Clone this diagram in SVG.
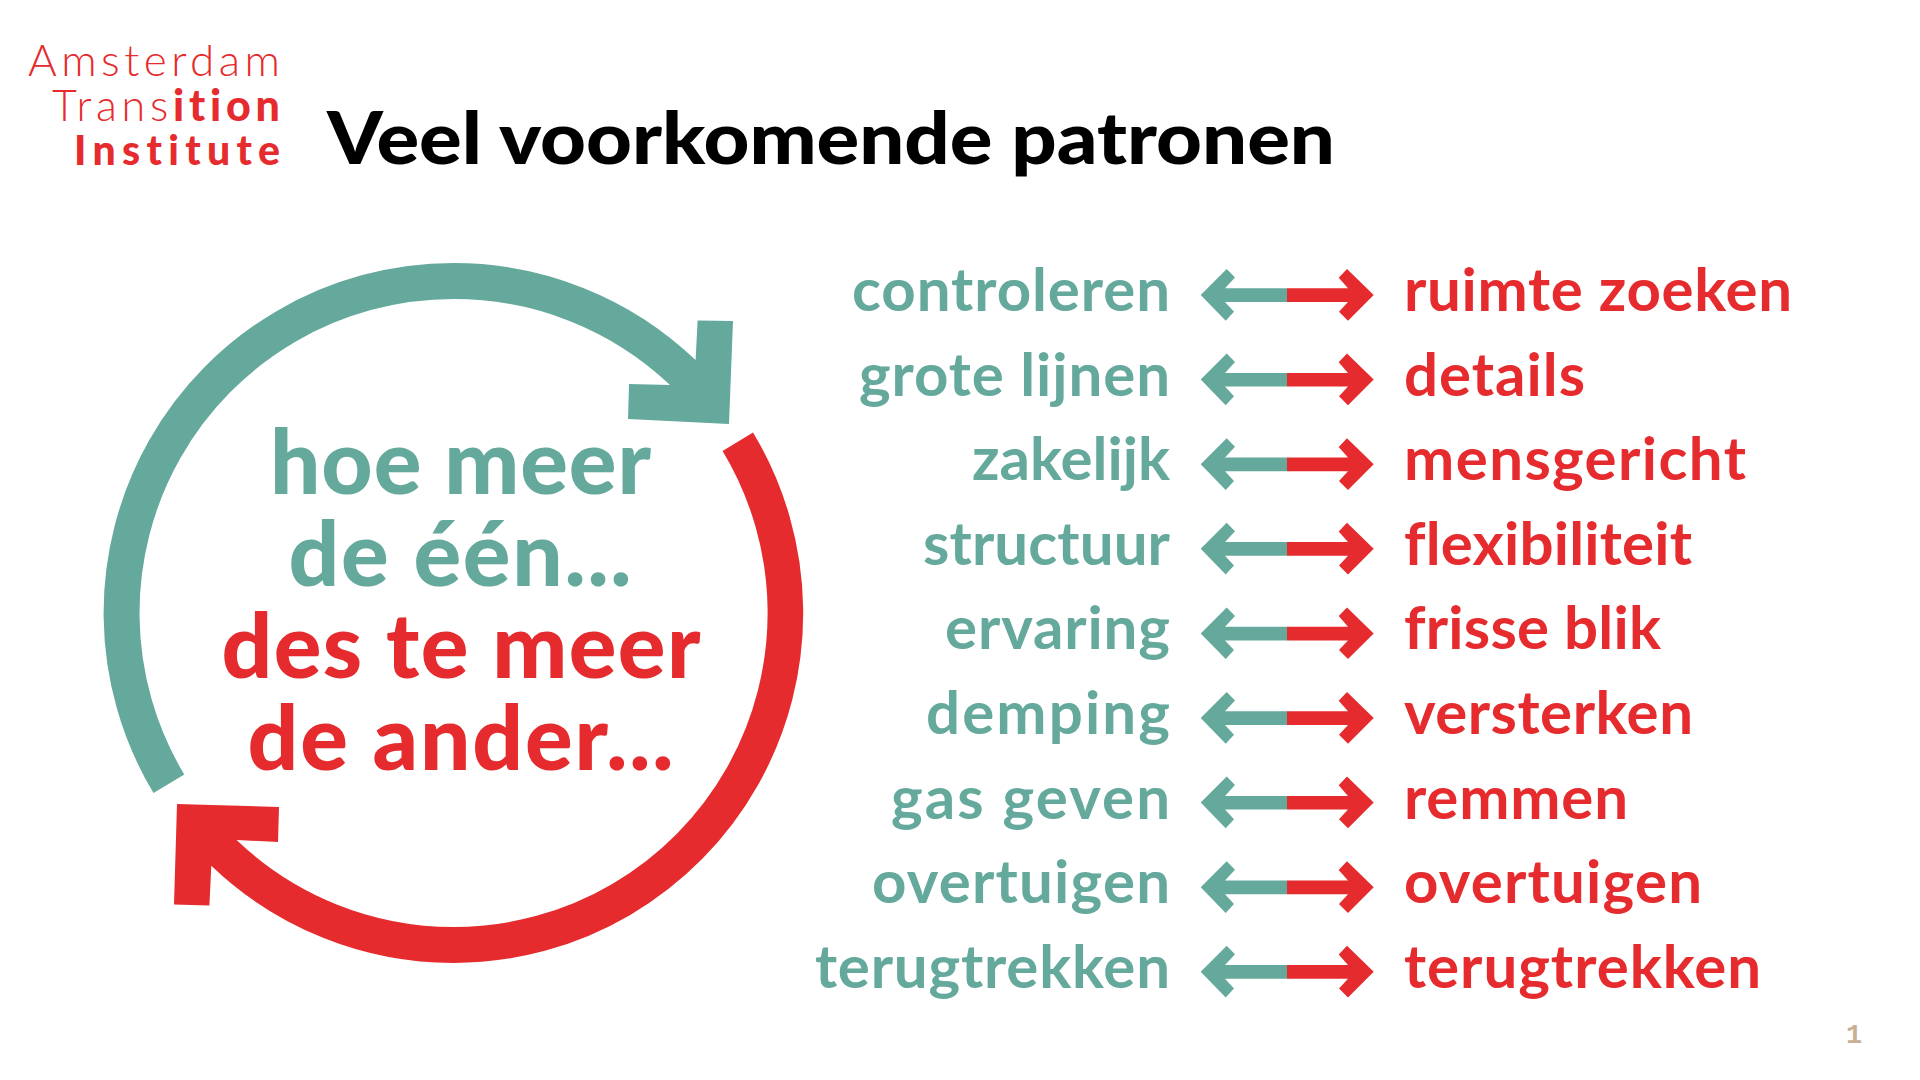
<svg xmlns="http://www.w3.org/2000/svg" width="1920" height="1080" viewBox="0 0 1920 1080">
<style>
text{font-family:"Lato","Liberation Sans",sans-serif;font-variant-ligatures:none}
.t{fill:#65A99C}.r{fill:#E52B2D}
.row{font-size:60px;font-weight:700}
.l{text-anchor:end}
.c{font-size:89px;font-weight:900}
.logo{fill:#E52B2D;text-anchor:end}
</style>
<defs>
<g id="dbl">
<path class="t" d="M1200.7 295L1226.7 269L1235 277.5L1225 288.3H1287V302H1225L1234 311.7L1225.7 320.7Z"/>
<path class="r" d="M1373.7 295L1347 269L1338.7 277.7L1348 288.3H1287V302H1348L1339 311.7L1348 320.7Z"/>
</g>
</defs>
<rect width="1920" height="1080" fill="#fff"/>
<g id="logo">
<text class="logo" x="280" y="76" font-size="44" font-weight="300" textLength="252" lengthAdjust="spacing">Amsterdam</text>
<text class="logo" x="280" y="121" font-size="43" font-weight="300" textLength="228" lengthAdjust="spacing">Trans<tspan font-weight="900">ition</tspan></text>
<text class="logo" x="280" y="165" font-size="41" font-weight="900" textLength="206" lengthAdjust="spacing">Institute</text>
</g>
<text id="title" x="327" y="164" font-size="73" font-weight="900" fill="#000" textLength="1008" lengthAdjust="spacingAndGlyphs">Veel voorkomende patronen</text>
<g id="cycle">
<path class="t" d="M153.500 793.100A350 350 0 0 1 453.600 263A350 350 0 0 1 695.600 360L697.600 320.500L733 321L729 424L628 419L629 384L670 385A314 314 0 0 0 453.600 299A314 314 0 0 0 184.300 774.600Z"/>
<path class="r" d="M753 432.400A350 350 0 0 1 453.600 963A350 350 0 0 1 211.300 865.700L209.400 905.500L174 904.600L177 804L279 807L278 842L236.600 840A314 314 0 0 0 453.600 927A314 314 0 0 0 722.600 451Z"/>
</g>
<g id="center" class="c">
<text class="t" x="270" y="494" textLength="381" lengthAdjust="spacing">hoe meer</text>
<text class="t" x="288.500" y="586" textLength="343" lengthAdjust="spacing">de één...</text>
<text class="r" x="221.500" y="678" textLength="479" lengthAdjust="spacing">des te meer</text>
<text class="r" x="247.500" y="770" textLength="426" lengthAdjust="spacing">de ander...</text>
</g>
<g id="connectors">
<use href="#dbl"/>
<use href="#dbl" y="84.6"/>
<use href="#dbl" y="169.2"/>
<use href="#dbl" y="253.8"/>
<use href="#dbl" y="338.4"/>
<use href="#dbl" y="423"/>
<use href="#dbl" y="507.6"/>
<use href="#dbl" y="592.2"/>
<use href="#dbl" y="676.8"/>
</g>
<g id="left" class="row">
<text id="l1" class="t l" x="1170" y="311" textLength="318" lengthAdjust="spacing">controleren</text>
<text id="l2" class="t l" x="1170" y="395.6" textLength="311" lengthAdjust="spacing">grote lijnen</text>
<text id="l3" class="t l" x="1170" y="480.2" textLength="198" lengthAdjust="spacing">zakelijk</text>
<text id="l4" class="t l" x="1170" y="564.8" textLength="247" lengthAdjust="spacing">structuur</text>
<text id="l5" class="t l" x="1170" y="649.4" textLength="225" lengthAdjust="spacing">ervaring</text>
<text id="l6" class="t l" x="1170" y="734" textLength="244" lengthAdjust="spacing">demping</text>
<text id="l7" class="t l" x="1170" y="818.6" textLength="279" lengthAdjust="spacing">gas geven</text>
<text id="l8" class="t l" x="1170" y="903.2" textLength="298" lengthAdjust="spacing">overtuigen</text>
<text id="l9" class="t l" x="1170" y="987.8" textLength="355" lengthAdjust="spacing">terugtrekken</text>
</g>
<g id="right" class="row">
<text id="r1" class="r" x="1404" y="311" textLength="388" lengthAdjust="spacing">ruimte zoeken</text>
<text id="r2" class="r" x="1404" y="395.6" textLength="181" lengthAdjust="spacing">details</text>
<text id="r3" class="r" x="1404" y="480.2" textLength="342" lengthAdjust="spacing">mensgericht</text>
<text id="r4" class="r" x="1404" y="564.8" textLength="288" lengthAdjust="spacing">flexibiliteit</text>
<text id="r5" class="r" x="1404" y="649.4" textLength="257" lengthAdjust="spacing">frisse blik</text>
<text id="r6" class="r" x="1404" y="734" textLength="289" lengthAdjust="spacing">versterken</text>
<text id="r7" class="r" x="1404" y="818.6" textLength="224" lengthAdjust="spacing">remmen</text>
<text id="r8" class="r" x="1404" y="903.2" textLength="298" lengthAdjust="spacing">overtuigen</text>
<text id="r9" class="r" x="1404" y="987.8" textLength="357" lengthAdjust="spacing">terugtrekken</text>
</g>
<text id="page" x="1854" y="1042.500" font-size="27" font-weight="700" fill="#C8B094" text-anchor="middle" style="font-family:'Liberation Mono',monospace">1</text>
</svg>
